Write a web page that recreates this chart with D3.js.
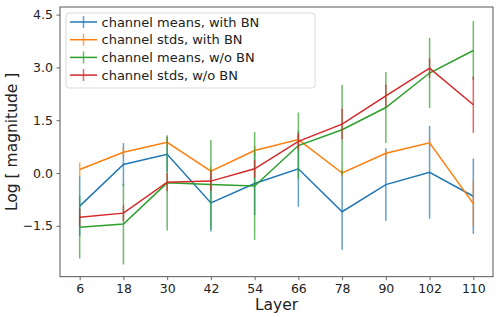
<!DOCTYPE html>
<html>
<head>
<meta charset="utf-8">
<script src="https://cdn.jsdelivr.net/npm/d3@7"></script>
<style>
  body { margin: 0; background: #fff; }
  text { font-family: "DejaVu Sans", sans-serif; fill: #222; }
</style>
</head>
<body>
<div id="chart"></div>
<script>
// layers on the x axis (equally spaced categories)
const layers = ["6", "18", "30", "42", "54", "66", "78", "90", "102", "110"];
const yTicks = [-1.5, 0.0, 1.5, 3.0, 4.5];

// values (mean, error half-length)
const meansBN = [-0.94, 0.24, 0.53, -0.85, -0.30, 0.12, -1.10, -0.33, 0.02, -0.66];
const meansBNErr = [0.85, 0.61, 0.50, 0.81, 0.90, 1.08, 1.08, 1.03, 1.32, 1.07];
const stdsBN = [0.10, 0.59, 0.87, 0.05, 0.64, 0.95, 0.00, 0.56, 0.86, -0.87];
const stdsBNErr = [0.20, 0.14, 0.14, 0.12, 0.14, 0.14, 0.10, 0.11, 0.12, 0.64];
const meansNoBN = [-1.54, -1.45, -0.28, -0.33, -0.37, 0.78, 1.23, 1.86, 2.84, 3.48];
const meansNoBNErr = [0.89, 1.15, 1.35, 1.27, 1.53, 0.94, 1.27, 1.01, 1.00, 0.84];
const stdsNoBN = [-1.26, -1.14, -0.26, -0.23, 0.12, 0.90, 1.39, 2.19, 2.98, 1.94];
const stdsNoBNErr = [0.25, 0.22, 0.26, 0.28, 0.25, 0.23, 0.44, 0.32, 0.28, 0.80];

const seriesNames = ["channel means, with BN", "channel stds, with BN", "channel means, w/o BN", "channel stds, w/o BN"];
const seriesColors = ["#1f77b4", "#ff7f0e", "#2ca02c", "#d62728"];

const series = [
    {name: seriesNames[0], color: seriesColors[0], values: meansBN, errs: meansBNErr},
    {name: seriesNames[1], color: seriesColors[1], values: stdsBN, errs: stdsBNErr},
    {name: seriesNames[2], color: seriesColors[2], values: meansNoBN, errs: meansNoBNErr},
    {name: seriesNames[3], color: seriesColors[3], values: stdsNoBN, errs: stdsNoBNErr}
];

const width = 498, height = 317;
const plot = {left: 60, right: 493, top: 7, bottom: 276.7};

const svg = d3.select("#chart")
    .append("svg")
    .attr("width", width)
    .attr("height", height);

// scales
const x = d3.scaleLinear()
    .domain([-0.45, layers.length - 1 + 0.45])
    .range([plot.left, plot.right]);

const y = d3.scaleLinear()
    .domain([-2.946, 4.716])
    .range([plot.bottom, plot.top]);

// axes
const xAxis = svg.append("g")
    .attr("transform", `translate(0, ${plot.bottom})`)
    .call(d3.axisBottom(x)
        .tickValues(d3.range(layers.length))
        .tickFormat(i => layers[i])
        .tickSize(3.5)
        .tickPadding(3.5));
xAxis.select(".domain").remove();

const yAxis = svg.append("g")
    .attr("transform", `translate(${plot.left}, 0)`)
    .call(d3.axisLeft(y)
        .tickValues(yTicks)
        .tickFormat(d => d3.format(".1f")(d).replace("-", "\u2212"))
        .tickSize(3.5)
        .tickPadding(3.5));
yAxis.select(".domain").remove();

svg.selectAll(".tick line").attr("stroke", "#444").attr("stroke-width", 0.8);
svg.selectAll(".tick text")
    .style("font-family", "DejaVu Sans, sans-serif")
    .style("font-size", "12.5px")
    .attr("fill", "#222");

// frame
svg.append("rect")
    .attr("x", plot.left)
    .attr("y", plot.top)
    .attr("width", plot.right - plot.left)
    .attr("height", plot.bottom - plot.top)
    .attr("fill", "none")
    .attr("stroke", "#444")
    .attr("stroke-width", 0.9);

// error bars + lines, one series at a time
const line = d3.line()
    .x((d, i) => x(i))
    .y(d => y(d));

series.forEach(s => {
    const g = svg.append("g");
    g.selectAll("line.err")
        .data(s.values)
        .join("line")
        .attr("class", "err")
        .attr("x1", (d, i) => x(i))
        .attr("x2", (d, i) => x(i))
        .attr("y1", (d, i) => y(d + s.errs[i]))
        .attr("y2", (d, i) => y(d - s.errs[i]))
        .attr("stroke", s.color)
        .attr("stroke-opacity", 0.7)
        .attr("stroke-width", 1.5);
    g.append("path")
        .datum(s.values)
        .attr("d", line)
        .attr("fill", "none")
        .attr("stroke", s.color)
        .attr("stroke-width", 1.5);
});

// legend
const legend = svg.append("g");
legend.append("rect")
    .attr("x", 66)
    .attr("y", 13)
    .attr("width", 249)
    .attr("height", 75)
    .attr("rx", 3)
    .attr("fill", "#fff")
    .attr("fill-opacity", 0.8)
    .attr("stroke", "#d5d5d5")
    .attr("stroke-width", 0.9);

const items = legend.selectAll("g.item")
    .data(series)
    .join("g")
    .attr("class", "item")
    .attr("transform", (d, i) => `translate(0, ${22 + i * 17.7})`);

items.append("line")
    .attr("x1", 70).attr("x2", 97)
    .attr("y1", 0).attr("y2", 0)
    .attr("stroke", d => d.color)
    .attr("stroke-width", 1.5);
items.append("line")
    .attr("x1", 83.5).attr("x2", 83.5)
    .attr("y1", -6).attr("y2", 6)
    .attr("stroke", d => d.color)
    .attr("stroke-opacity", 0.7)
    .attr("stroke-width", 1.5);
items.append("text")
    .attr("x", 101.5)
    .attr("y", 0)
    .attr("dy", "0.35em")
    .style("font-size", "13px")
    .text(d => d.name);

// axis titles
svg.append("text")
    .attr("x", (plot.left + plot.right) / 2)
    .attr("y", 310)
    .attr("text-anchor", "middle")
    .style("font-size", "15.5px")
    .text("Layer");

svg.append("text")
    .attr("transform", `translate(17, ${(plot.top + plot.bottom) / 2}) rotate(-90)`)
    .attr("text-anchor", "middle")
    .style("font-size", "15.5px")
    .text("Log [ magnitude ]");
</script>
</body>
</html>
